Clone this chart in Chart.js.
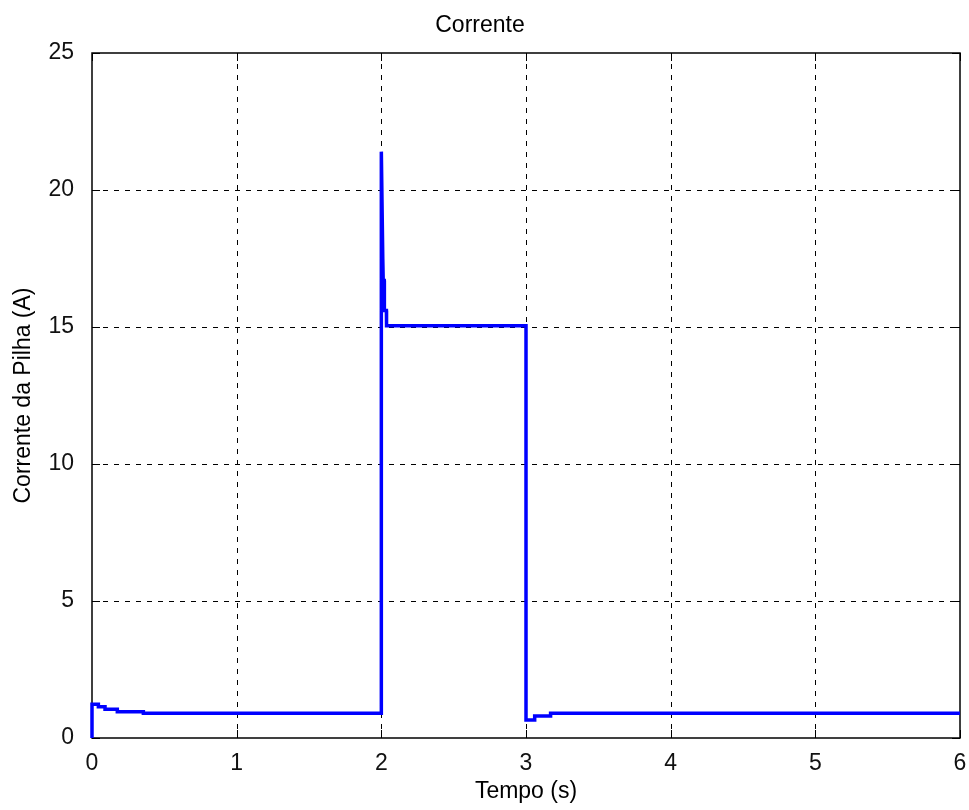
<!DOCTYPE html>
<html>
<head>
<meta charset="utf-8">
<script src="https://cdn.jsdelivr.net/npm/chart.js@4"></script>
<style>
  body { margin: 0; background: #fff; }
  #wrap { width: 969px; height: 810px; }
</style>
</head>
<body>
<div id="wrap"><canvas id="chart" width="969" height="810"></canvas></div>
<script>
// Time (s) and stack current (A)
const timeValues = [0, 0, 0.044, 0.044, 0.09, 0.09, 0.175, 0.175, 0.355, 0.355,
  2.0, 2.0, 2.01, 2.013, 2.02, 2.021, 2.035, 2.036, 3.0,
  3.0, 3.06, 3.06, 3.17, 3.17, 6.0];
const currentValues = [0, 1.23, 1.23, 1.14, 1.14, 1.05, 1.05, 0.96, 0.96, 0.9,
  0.9, 21.4, 17.5, 16.7, 16.7, 15.6, 15.6, 15.05, 15.05,
  0.66, 0.66, 0.8, 0.8, 0.9, 0.9];

const xTicks = [0, 1, 2, 3, 4, 5, 6];
const yTicks = [0, 5, 10, 15, 20, 25];

const FONT = { family: '"Liberation Sans", Arial, sans-serif', size: 23 };

// MATLAB-style axes: dashed grid, full box, inward ticks
const axesBox = {
  id: 'axesBox',
  beforeDatasetsDraw(chart) {
    const { ctx, chartArea: a, scales } = chart;
    const tickLen = 8;
    ctx.save();
    ctx.strokeStyle = '#000';
    ctx.lineWidth = 1;

    // dashed grid
    ctx.setLineDash([5, 6]);
    ctx.beginPath();
    xTicks.forEach(v => {
      const x = Math.round(scales.x.getPixelForValue(v)) + 0.5;
      if (v === xTicks[0] || v === xTicks[xTicks.length - 1]) return;
      ctx.moveTo(x, a.top);
      ctx.lineTo(x, a.bottom);
    });
    yTicks.forEach(v => {
      const y = Math.round(scales.y.getPixelForValue(v)) + 0.5;
      if (v === yTicks[0] || v === yTicks[yTicks.length - 1]) return;
      ctx.moveTo(a.left, y);
      ctx.lineTo(a.right, y);
    });
    ctx.stroke();

    // box + inward ticks
    ctx.setLineDash([]);
    ctx.lineWidth = 1.5;
    ctx.strokeRect(a.left, a.top, a.right - a.left, a.bottom - a.top);
    ctx.lineWidth = 1;
    ctx.beginPath();
    xTicks.forEach(v => {
      const x = Math.round(scales.x.getPixelForValue(v)) + 0.5;
      ctx.moveTo(x, a.bottom); ctx.lineTo(x, a.bottom - tickLen);
      ctx.moveTo(x, a.top); ctx.lineTo(x, a.top + tickLen);
    });
    yTicks.forEach(v => {
      const y = Math.round(scales.y.getPixelForValue(v)) + 0.5;
      ctx.moveTo(a.left, y); ctx.lineTo(a.left + tickLen, y);
      ctx.moveTo(a.right, y); ctx.lineTo(a.right - tickLen, y);
    });
    ctx.stroke();
    ctx.restore();
  }
};

new Chart(document.getElementById('chart'), {
  type: 'line',
  data: {
    datasets: [{
      data: timeValues.map((t, i) => ({ x: t, y: currentValues[i] })),
      borderColor: '#0000ff',
      borderWidth: 3.5,
      pointRadius: 0,
      tension: 0,
      fill: false,
      clip: 6
    }]
  },
  options: {
    responsive: false,
    animation: false,
    layout: { padding: { left: 0, right: 9, top: 0, bottom: 0 } },
    plugins: {
      legend: { display: false },
      tooltip: { enabled: false },
      title: {
        display: true,
        text: 'Corrente',
        color: '#000',
        font: { ...FONT, weight: 'normal' },
        padding: { top: 12, bottom: 13.4 }
      }
    },
    scales: {
      x: {
        type: 'linear',
        min: 0,
        max: 6,
        afterFit(scale) {
          scale.height = 72;
          scale.paddingRight = 0;
          scale.paddingLeft = 0;
        },
        afterBuildTicks(scale) { scale.ticks = xTicks.map(v => ({ value: v })); },
        grid: { display: false },
        border: { display: false },
        ticks: { color: '#111', font: FONT, padding: 4, maxRotation: 0 },
        title: {
          display: true,
          text: 'Tempo (s)',
          color: '#000',
          font: FONT,
          padding: { top: 0, bottom: 5 }
        }
      },
      y: {
        type: 'linear',
        min: 0,
        max: 25,
        afterFit(scale) {
          scale.width = 92;
          scale.paddingTop = 0;
          scale.paddingBottom = 0;
        },
        afterBuildTicks(scale) { scale.ticks = yTicks.map(v => ({ value: v })); },
        grid: { display: false },
        border: { display: false },
        ticks: { color: '#111', font: FONT, padding: 10 },
        title: {
          display: true,
          text: 'Corrente da Pilha (A)',
          color: '#000',
          font: FONT,
          padding: { top: 10, bottom: 0 }
        }
      }
    }
  },
  plugins: [axesBox]
});
</script>
</body>
</html>
